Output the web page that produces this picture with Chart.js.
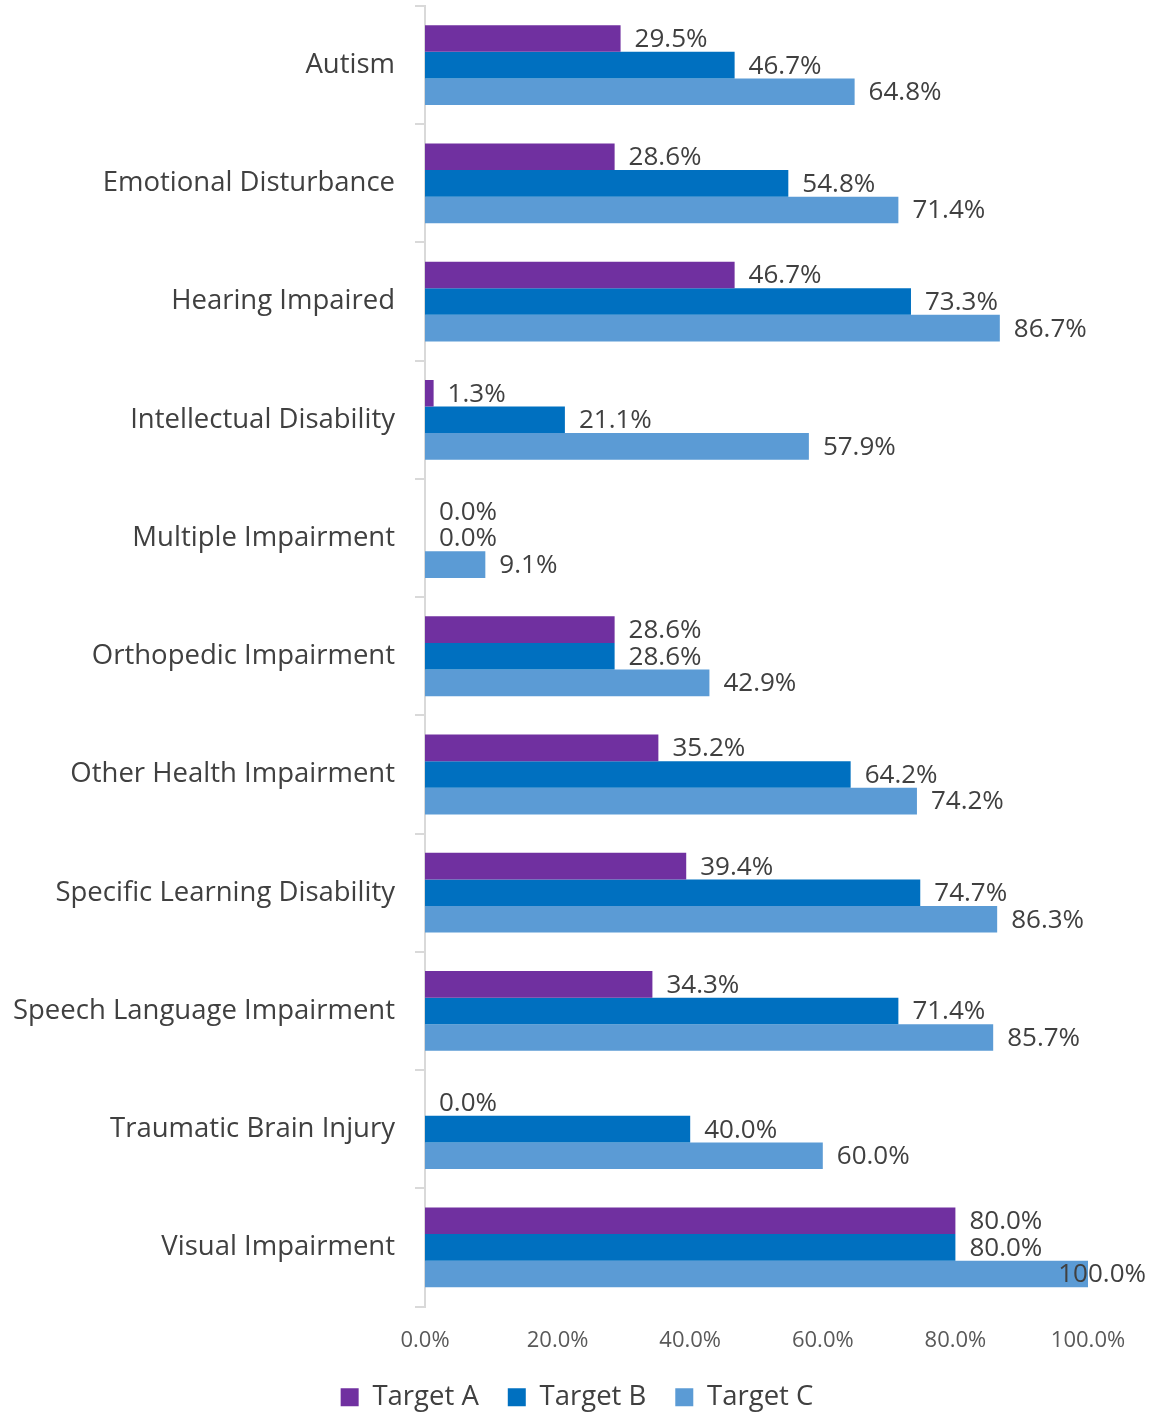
<!DOCTYPE html>
<html lang="en">
  <head>
    <meta charset="UTF-8" />
    <title>Targets by disability</title>
    <style>
      body { margin: 0; background: #fff; }
      #wrap { width: 1154px; height: 1416px; }
    </style>
  </head>
  <body>
    <div id="wrap">
      <canvas id="myChart"></canvas>
    </div>

    <script src="https://cdn.jsdelivr.net/npm/chart.js"></script>
    <script>
      const categories = [
        "Autism",
        "Emotional Disturbance",
        "Hearing Impaired",
        "Intellectual Disability",
        "Multiple Impairment",
        "Orthopedic Impairment",
        "Other Health Impairment",
        "Specific Learning Disability",
        "Speech Language Impairment",
        "Traumatic Brain Injury",
        "Visual Impairment",
      ];
      const targetA = [29.5, 28.6, 46.7, 1.3, 0.0, 28.6, 35.2, 39.4, 34.3, 0.0, 80.0];
      const targetB = [46.7, 54.8, 73.3, 21.1, 0.0, 28.6, 64.2, 74.7, 71.4, 40.0, 80.0];
      const targetC = [64.8, 71.4, 86.7, 57.9, 9.1, 42.9, 74.2, 86.3, 85.7, 60.0, 100.0];
      const xTicks = [0, 20, 40, 60, 80, 100];

      const FONT = "'Open Sans', sans-serif";
      const textColor = "#404040";

      // value labels drawn just past the end of each bar
      const barLabels = {
        id: "barLabels",
        afterDatasetsDraw(chart) {
          const ctx = chart.ctx;
          ctx.save();
          ctx.font = "26px " + FONT;
          ctx.fillStyle = textColor;
          ctx.textAlign = "left";
          ctx.textBaseline = "middle";
          chart.data.datasets.forEach((ds, i) => {
            chart.getDatasetMeta(i).data.forEach((bar, j) => {
              const txt = ds.data[j].toFixed(1) + "%";
              const w = ctx.measureText(txt).width;
              let x = bar.x + 14;
              if (x + w > chart.width - 8) x = chart.width - 8 - w;
              ctx.fillText(txt, x, bar.y + 1);
            });
          });
          ctx.restore();
        },
      };

      // legend centred on the whole canvas, not just the plot
      const centerLegend = {
        id: "centerLegend",
        afterLayout(chart) {
          const lg = chart.legend;
          lg.left = 0;
          lg.right = chart.width;
          lg.width = chart.width;
        },
      };

      const config = {
        type: "bar",
        data: {
          labels: categories,
          datasets: [
            { label: "Target A", data: targetA, backgroundColor: "#7030A0" },
            { label: "Target B", data: targetB, backgroundColor: "#0070C0" },
            { label: "Target C", data: targetC, backgroundColor: "#5B9BD5" },
          ],
        },
        options: {
          indexAxis: "y",
          responsive: true,
          maintainAspectRatio: false,
          animation: false,
          datasets: {
            bar: { categoryPercentage: 0.675, barPercentage: 1.0 },
          },
          layout: {
            padding: { top: 6, right: 66, bottom: -5, left: 0 },
          },
          plugins: {
            legend: {
              position: "bottom",
              labels: {
                font: { size: 27.5, family: FONT },
                color: textColor,
                boxWidth: 18,
                boxHeight: 18,
                padding: 29,
              },
            },
            tooltip: { enabled: false },
          },
          scales: {
            x: {
              min: 0,
              max: 100,
              afterBuildTicks: (axis) => {
                axis.ticks = xTicks.map((v) => ({ value: v }));
              },
              afterFit: (axis) => {
                axis.height = 48;
              },
              ticks: {
                font: { size: 22, family: FONT },
                color: "#595959",
                padding: 13,
                callback: (v) => v.toFixed(1) + "%",
              },
              grid: { display: false },
              border: { display: false },
            },
            y: {
              afterFit: (axis) => {
                axis.width = 425;
                axis.paddingTop = 0;
                axis.paddingBottom = 0;
              },
              ticks: {
                font: { size: 27.5, family: FONT },
                color: textColor,
                padding: 20,
              },
              grid: {
                drawOnChartArea: false,
                tickLength: 10,
                color: "#d9d9d9",
                lineWidth: 2,
              },
              border: { color: "#d9d9d9", width: 2 },
            },
          },
        },
        plugins: [barLabels, centerLegend],
      };

      new Chart(document.getElementById("myChart"), config);
    </script>
  </body>
</html>
